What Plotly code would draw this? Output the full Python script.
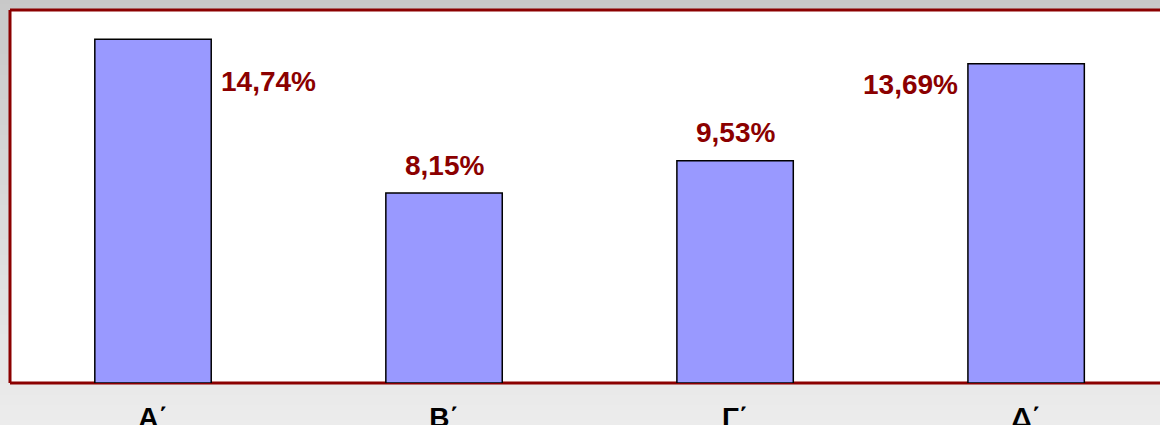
import plotly.graph_objects as go

categories = ["Α΄", "Β΄", "Γ΄", "Δ΄"]
values = [14.74, 8.15, 9.53, 13.69]
labels = ["14,74%", "8,15%", "9,53%", "13,69%"]

W, H = 1160, 425
ML, MR, MT, MB = 10, 0, 10, 42
PW, PH = W - ML - MR, H - MT - MB

def px_to_paper(px, py):
    return (px - ML) / PW, (H - MB - py) / PH

fig = go.Figure()
fig.add_trace(go.Bar(
    x=categories, y=values, width=0.4,
    marker=dict(color="#9999FF", line=dict(color="#000000", width=1.5)),
    hoverinfo="skip",
))

shapes = []
# vertical gradient background
nb = 85
for i in range(nb):
    y0p = i * H / nb
    y1p = (i + 1) * H / nb
    t = (i + 0.5) / nb
    c = int(round(200 + 36 * t))
    _, ya = px_to_paper(0, y0p)
    _, yb = px_to_paper(0, y1p)
    xa, _ = px_to_paper(0, 0)
    xb, _ = px_to_paper(W, 0)
    shapes.append(dict(type="rect", xref="paper", yref="paper", x0=xa, x1=xb,
                       y0=yb - 0.001, y1=ya + 0.001, fillcolor=f"rgb({c},{c},{c})",
                       line=dict(width=0), layer="below"))
# white plot area
shapes.append(dict(type="rect", xref="paper", yref="paper", x0=0, x1=1.01, y0=0, y1=1,
                   fillcolor="white", line=dict(width=0), layer="below"))
border = "#8B0000"
shapes.append(dict(type="line", xref="paper", yref="paper", x0=0, x1=1.01, y0=1, y1=1,
                   line=dict(color=border, width=3), layer="below"))
shapes.append(dict(type="line", xref="paper", yref="paper", x0=0, x1=0, y0=0, y1=1,
                   line=dict(color=border, width=3), layer="below"))
shapes.append(dict(type="line", xref="paper", yref="paper", x0=0, x1=1.01, y0=0, y1=0,
                   line=dict(color=border, width=3), layer="below"))

lab_font = dict(family="Liberation Sans, Arial, sans-serif", size=28, color="#8B0000", weight="bold")
ann_specs = [
    dict(dx=0.2, xanchor="left", xshift=8, yshift=-42),
    dict(dx=0.0, xanchor="center", xshift=0, yshift=28),
    dict(dx=0.0, xanchor="center", xshift=0, yshift=28),
    dict(dx=-0.2, xanchor="right", xshift=-8, yshift=-21),
]
annotations = []
for i, (v, lab, sp) in enumerate(zip(values, labels, ann_specs)):
    annotations.append(dict(x=i + sp["dx"], y=v, xref="x", yref="y", text=lab,
                            showarrow=False, xanchor=sp["xanchor"], yanchor="middle",
                            xshift=sp["xshift"], yshift=sp["yshift"], font=lab_font))

fig.update_layout(
    width=W, height=H,
    margin=dict(l=ML, r=MR, t=MT, b=MB, pad=0, autoexpand=False),
    paper_bgcolor="#dcdcdc", plot_bgcolor="rgba(0,0,0,0)",
    showlegend=False, bargap=0.6,
    shapes=shapes, annotations=annotations,
    xaxis=dict(range=[-0.4914, 3.46], showgrid=False, zeroline=False, showline=False,
               automargin=False,
               ticks="outside", ticklen=9, tickcolor="rgba(0,0,0,0)",
               tickfont=dict(family="Liberation Sans, Arial, sans-serif", size=28,
                             color="#000000", weight="bold")),
    yaxis=dict(range=[0, 16], showgrid=False, zeroline=False, showline=False,
               automargin=False, showticklabels=False, ticks=""),
)

fig.write_html("out.html", config={"displayModeBar": False},
               post_script="document.body.style.margin='0';document.body.style.overflow='hidden';")
